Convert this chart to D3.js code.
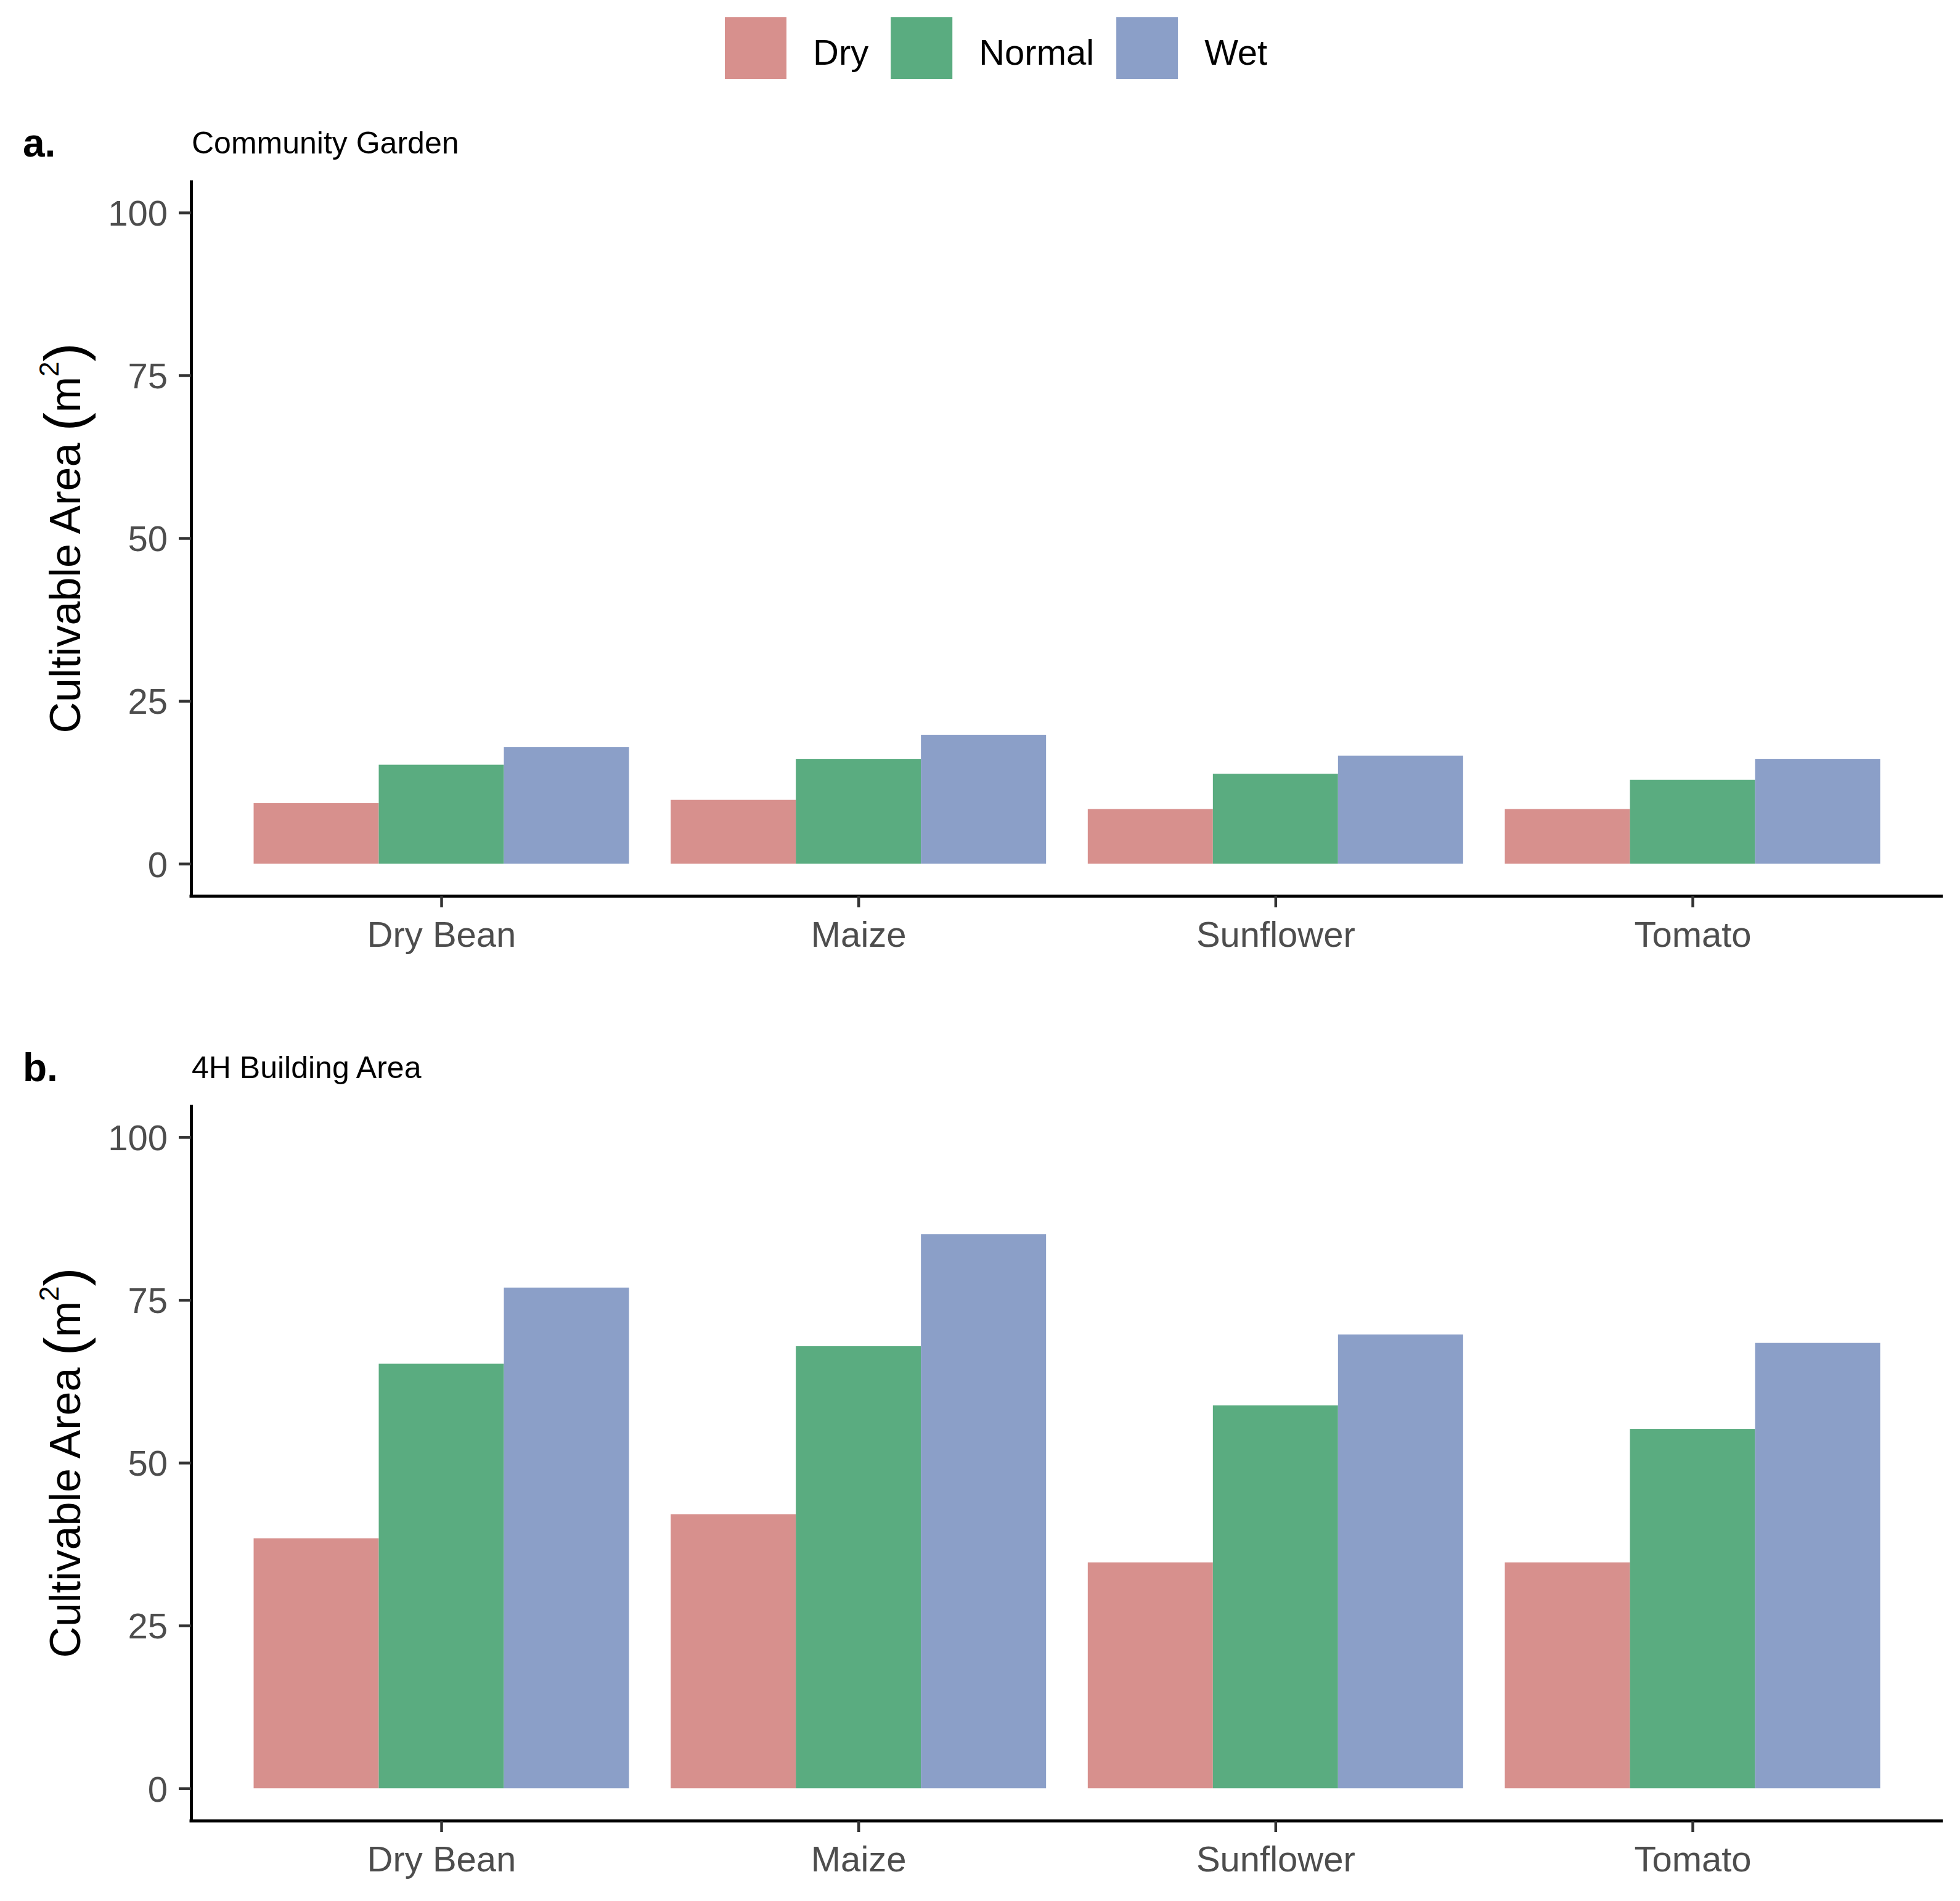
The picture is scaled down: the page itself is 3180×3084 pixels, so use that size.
<!DOCTYPE html>
<html>
<head>
<meta charset="utf-8">
<script src="https://cdn.jsdelivr.net/npm/d3@7"></script>
<style>
  body { margin: 0; background: #fff; }
  text { font-family: "Liberation Sans", Arial, sans-serif; }
</style>
</head>
<body>
<svg id="chart" width="3180" height="3084"></svg>
<script>
// data
const crops = ['Dry Bean', 'Maize', 'Sunflower', 'Tomato'];
const conditions = ['Dry', 'Normal', 'Wet'];
const yTicks = [0, 25, 50, 75, 100];

const gardenDry = [9.3, 9.8, 8.4, 8.4];
const gardenNormal = [15.2, 16.1, 13.8, 12.9];
const gardenWet = [17.9, 19.8, 16.6, 16.1];

const buildingDry = [38.4, 42.1, 34.7, 34.7];
const buildingNormal = [65.2, 67.9, 58.8, 55.2];
const buildingWet = [76.9, 85.1, 69.7, 68.4];

const colors = d3.scaleOrdinal()
    .domain(conditions)
    .range(['#D7908D', '#5AAC80', '#8B9FC8']);

const svg = d3.select('#chart');

const x = d3.scalePoint()
    .domain(crops)
    .range([310, 3152])
    .padding(0.6);

const step = x.step();
const xSub = d3.scaleBand()
    .domain(conditions)
    .range([-0.45 * step, 0.45 * step]);

const drawPanel = (letter, title, dry, normal, wet, bottom) => {
    const y = d3.scaleLinear()
        .domain([-5, 105])
        .range([bottom, bottom - 1162]);

    const rows = crops.map((c, i) => ({crop: c, Dry: dry[i], Normal: normal[i], Wet: wet[i]}));
    const g = svg.append('g');

    // bars
    g.selectAll('g.crop')
        .data(rows)
        .enter()
        .append('g')
        .attr('class', 'crop')
        .attr('transform', d => 'translate(' + x(d.crop) + ',0)')
        .selectAll('rect')
        .data(d => conditions.map(k => ({key: k, value: d[k]})))
        .enter()
        .append('rect')
        .attr('x', d => xSub(d.key))
        .attr('width', xSub.bandwidth())
        .attr('y', d => y(d.value))
        .attr('height', d => y(0) - y(d.value))
        .attr('fill', d => colors(d.key));

    // y axis
    const yAxis = g.append('g')
        .attr('transform', 'translate(310,0)')
        .call(d3.axisLeft(y).tickValues(yTicks).tickSize(20).tickSizeOuter(0).tickPadding(18));
    yAxis.select('.domain').attr('stroke', '#000').attr('stroke-width', 5);
    yAxis.selectAll('.tick line').attr('stroke', '#333').attr('stroke-width', 4.5);
    yAxis.selectAll('.tick text')
        .attr('fill', '#4D4D4D')
        .style('font-size', '58px')
        .attr('dy', '0.36em');

    // x axis
    const xAxis = g.append('g')
        .attr('transform', 'translate(0,' + bottom + ')')
        .call(d3.axisBottom(x).tickSize(18).tickSizeOuter(0).tickPadding(22));
    xAxis.select('.domain').attr('stroke', '#000').attr('stroke-width', 5)
        .attr('d', 'M307.5,0H3152');
    xAxis.selectAll('.tick line').attr('stroke', '#333').attr('stroke-width', 4.5);
    xAxis.selectAll('.tick text')
        .attr('fill', '#4D4D4D')
        .style('font-size', '58px')
        .attr('dy', '0.72em');

    // y axis title
    const yMid = (y(-5) + y(105)) / 2;
    const yt = g.append('text')
        .attr('transform', 'translate(130,' + yMid + ') rotate(-90)')
        .attr('text-anchor', 'middle')
        .attr('fill', '#000')
        .style('font-size', '70px');
    yt.append('tspan').text('Cultivable Area ');
    yt.append('tspan').style('font-size', '90px').attr('dy', '6').text('(');
    yt.append('tspan').attr('dy', '-6').text('m');
    yt.append('tspan').style('font-size', '44px').attr('dy', '-35').text('2');
    yt.append('tspan').style('font-size', '90px').attr('dy', '41').text(')');

    // panel letter and title
    g.append('text')
        .attr('x', 37)
        .attr('y', bottom - 1200)
        .attr('fill', '#000')
        .style('font-size', '64px')
        .style('font-weight', 'bold')
        .text(letter);
    g.append('text')
        .attr('x', 311)
        .attr('y', bottom - 1205)
        .attr('fill', '#000')
        .style('font-size', '50px')
        .text(title);
};

drawPanel('a.', 'Community Garden', gardenDry, gardenNormal, gardenWet, 1454);
drawPanel('b.', '4H Building Area', buildingDry, buildingNormal, buildingWet, 2954);

// legend
const legend = svg.append('g');
let lx = 1176;
conditions.forEach(c => {
    legend.append('rect')
        .attr('x', lx)
        .attr('y', 28)
        .attr('width', 100)
        .attr('height', 100)
        .attr('fill', colors(c));
    const t = legend.append('text')
        .attr('x', lx + 143)
        .attr('y', 105)
        .attr('fill', '#000')
        .style('font-size', '58px')
        .text(c);
    lx = lx + 143 + t.node().getComputedTextLength() + 36;
});
</script>
</body>
</html>
